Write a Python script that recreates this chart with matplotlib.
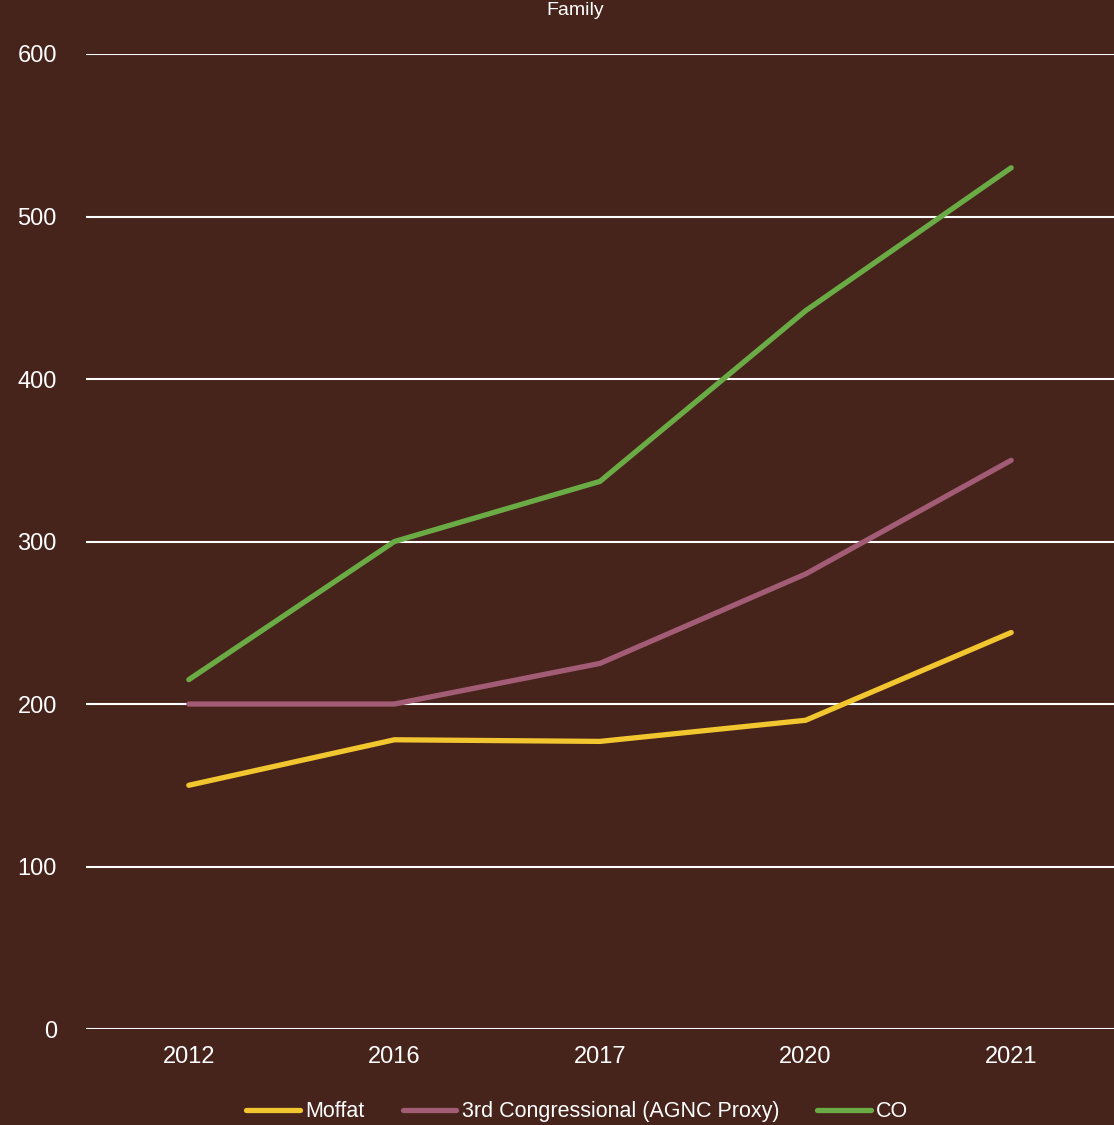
import matplotlib
matplotlib.use('Agg')
import matplotlib.pyplot as plt
import numpy as np

# data
years = ['2012', '2016', '2017', '2020', '2021']
moffat = [150, 178, 177, 190, 244]
congressional = [200, 200, 225, 280, 350]
colorado = [215, 300, 337, 442, 530]

bg = '#46231b'
plt.rcParams['font.family'] = ['Liberation Sans', 'DejaVu Sans']

fig = plt.figure(figsize=(11.14, 11.25), dpi=100, facecolor=bg)
ax = fig.add_axes([0.0772, 0.0853, 0.9228, 0.8667])
ax.set_facecolor(bg)

x = np.arange(len(years))
ax.plot(x, moffat, color='#f2c62f', lw=3.8, solid_capstyle='round', label='Moffat', zorder=3)
ax.plot(x, congressional, color='#a35c75', lw=3.8, solid_capstyle='round', label='3rd Congressional (AGNC Proxy)', zorder=3)
ax.plot(x, colorado, color='#6aab45', lw=3.8, solid_capstyle='round', label='CO', zorder=3)

ax.set_xlim(-0.5, 4.5)
ax.set_ylim(0, 600)
ax.set_yticks(range(0, 601, 100))
ax.set_xticks(x)
ax.set_xticklabels(years)
ax.yaxis.grid(True, color='white', lw=1.5)
ax.set_axisbelow(True)
for s in ax.spines.values():
    s.set_visible(False)
ax.tick_params(axis='both', length=0, colors='white', labelsize=17)
ax.tick_params(axis='y', pad=21)
ax.tick_params(axis='x', pad=12)

fig.text(0.516, 0.991, 'Family', color='white', fontsize=14, ha='center', va='center')

leg = ax.legend(loc='upper center', bbox_to_anchor=(0.478, -0.054), ncol=3, frameon=False,
                handlelength=2.5, handletextpad=0.25, columnspacing=1.75,
                prop={'size': 15.5})
for t in leg.get_texts():
    t.set_color('white')

plt.savefig('out.png', facecolor=bg)
